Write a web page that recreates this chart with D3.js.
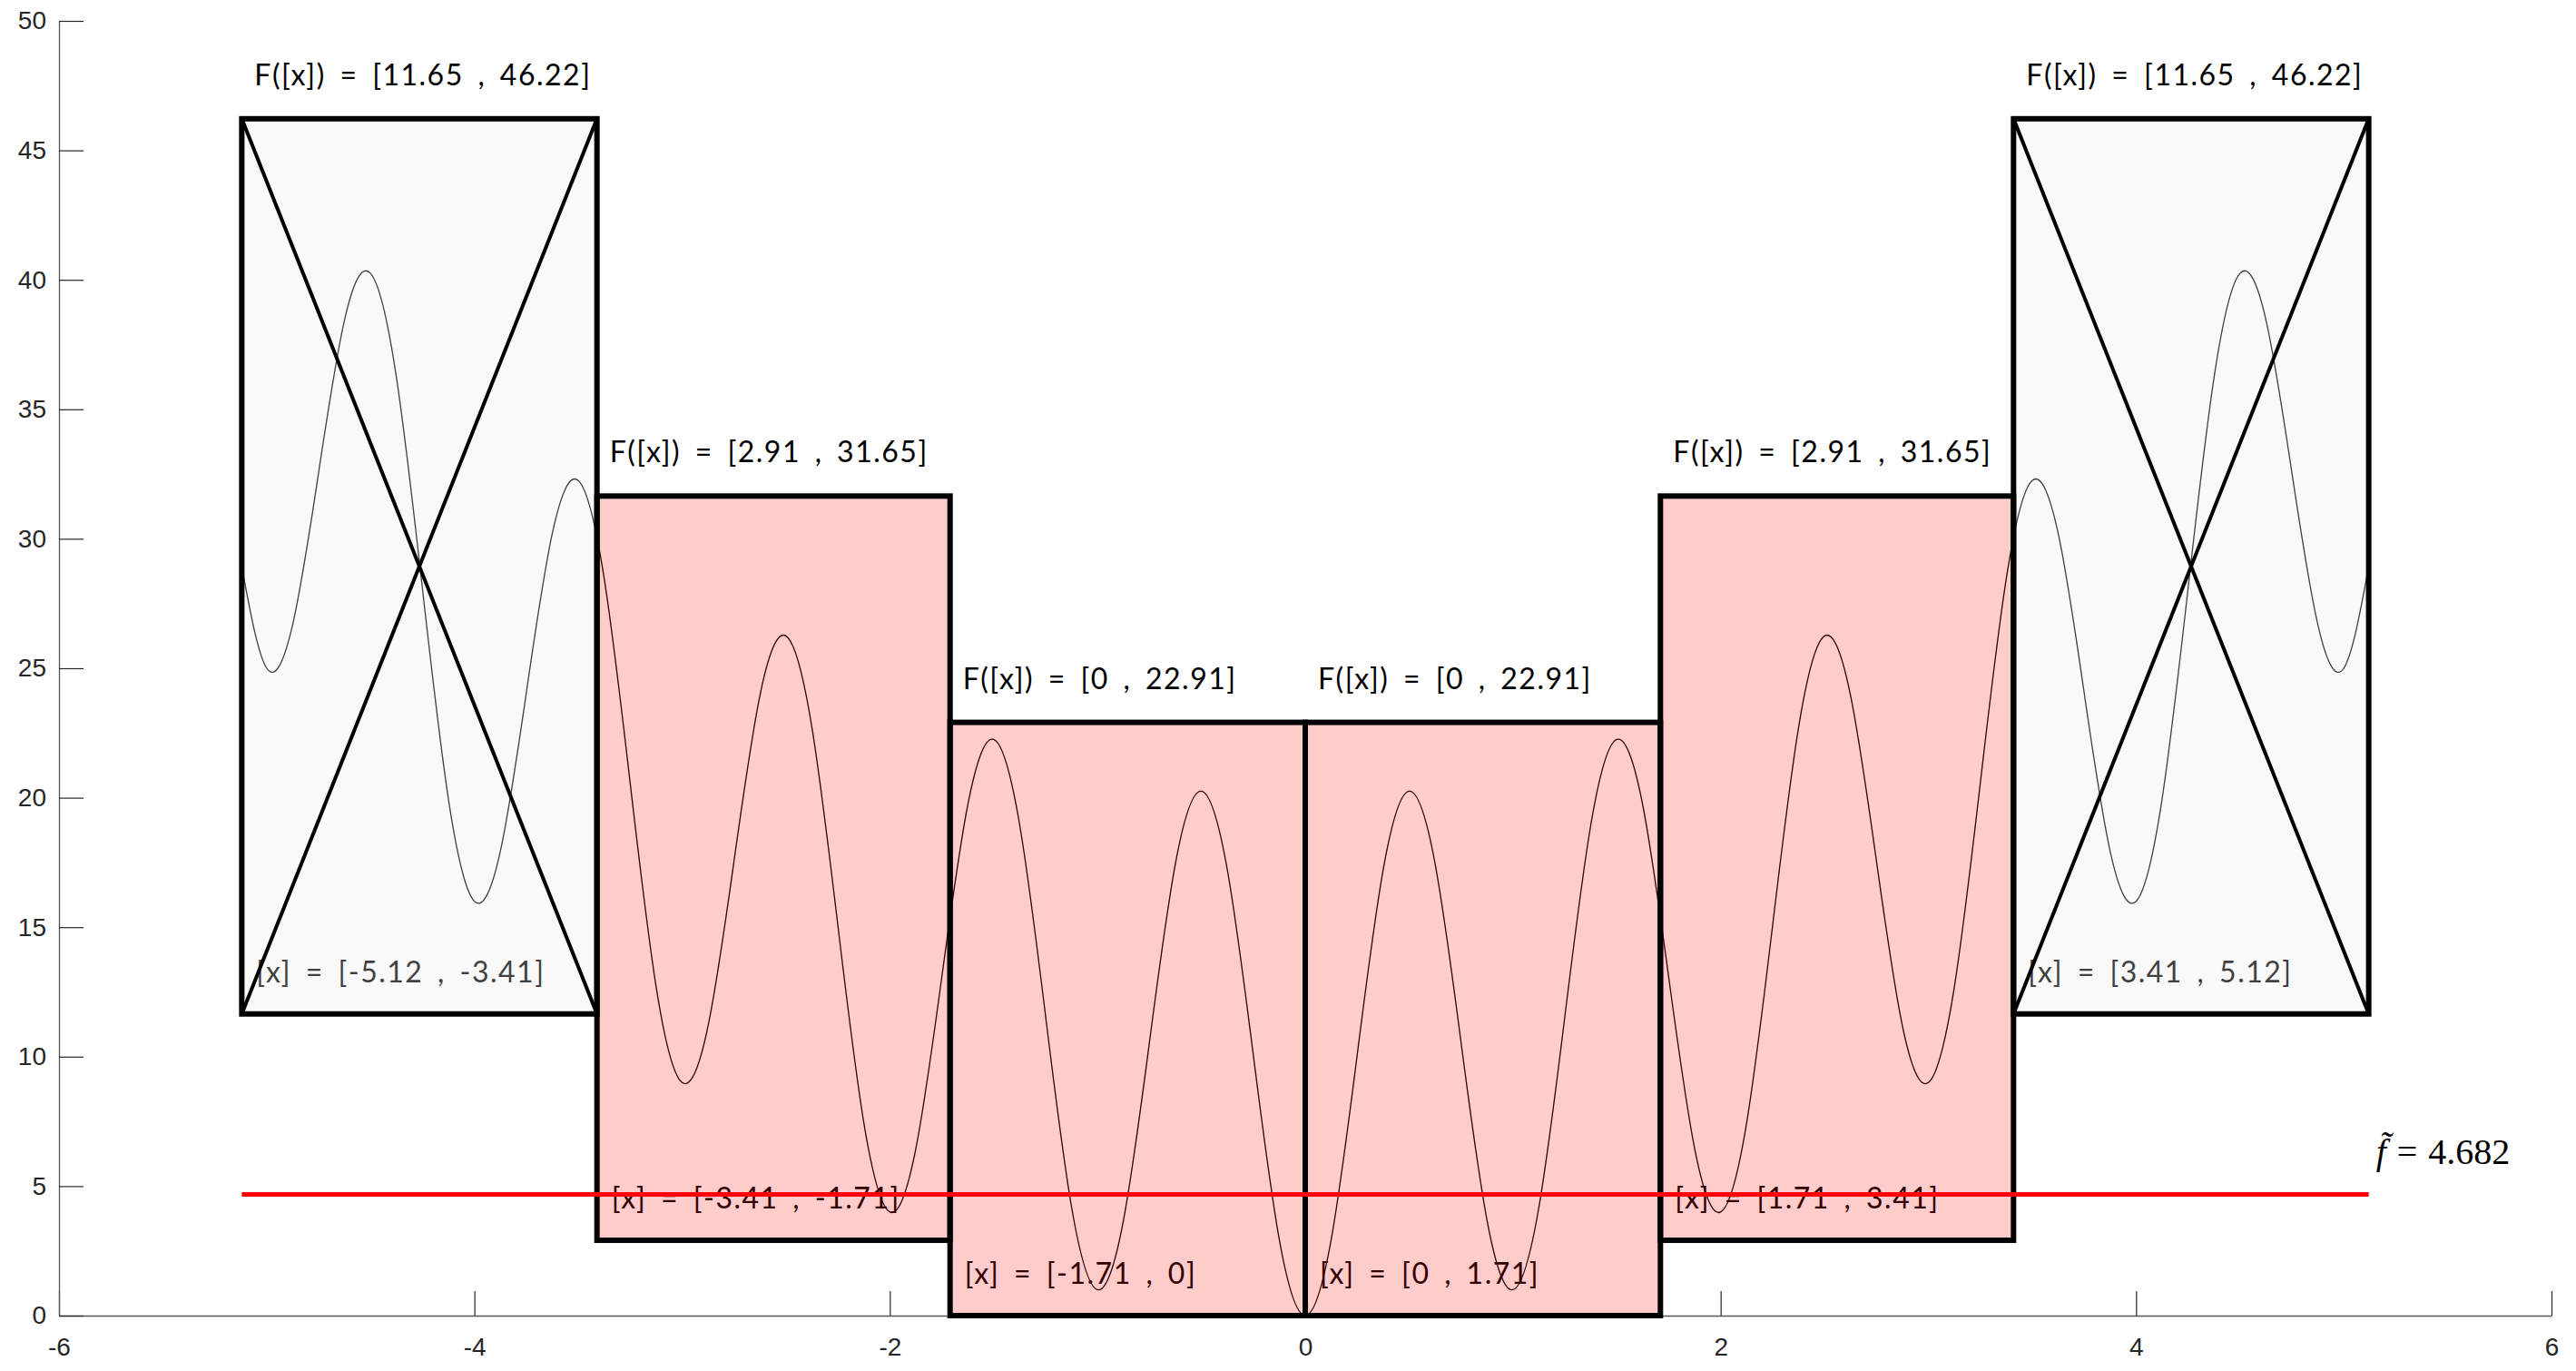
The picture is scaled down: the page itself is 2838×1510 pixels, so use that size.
<!DOCTYPE html>
<html>
<head>
<meta charset="utf-8">
<script src="https://cdn.jsdelivr.net/npm/d3@7/dist/d3.min.js"></script>
<style>
  body { margin: 0; background: #fff; }
  .tick text { font-family: "Liberation Sans", Arial, sans-serif; font-size: 28px; fill: #262626; }
  .tick line { stroke: #262626; stroke-width: 1.2; }
  .domain { stroke: #555; stroke-width: 1.3; }
  .lbl { font-family: Lato, "Open Sans", sans-serif; font-size: 32px; letter-spacing: 1.5px; word-spacing: 6px; }
</style>
</head>
<body>
<svg id="chart"></svg>
<script>
// intervalli [x] e limiti F([x])
var boxLo = [-5.12, -3.41, -1.71, 0, 1.71, 3.41];
var boxHi = [-3.41, -1.71, 0, 1.71, 3.41, 5.12];
var boxFLo = [11.65, 2.91, 0, 0, 2.91, 11.65];
var boxFHi = [46.22, 31.65, 22.91, 22.91, 31.65, 46.22];
var boxDiscarded = [true, false, false, false, false, true];

var fTilde = 4.682;

// campioni della curva
var curveX = [-5.12, -5, -4.875, -4.75, -4.625, -4.5, -4.375, -4.25, -4.125, -4,
  -3.875, -3.75, -3.625, -3.5, -3.375, -3.25, -3.125, -3, -2.875, -2.75,
  -2.625, -2.5, -2.375, -2.25, -2.125, -2, -1.875, -1.75, -1.625, -1.5,
  -1.375, -1.25, -1.125, -1, -0.875, -0.75, -0.625, -0.5, -0.375, -0.25,
  -0.125, 0, 0.125, 0.25, 0.375, 0.5, 0.625, 0.75, 0.875, 1,
  1.125, 1.25, 1.375, 1.5, 1.625, 1.75, 1.875, 2, 2.125, 2.25,
  2.375, 2.5, 2.625, 2.75, 2.875, 3, 3.125, 3.25, 3.375, 3.5,
  3.625, 3.75, 3.875, 4, 4.125, 4.25, 4.375, 4.5, 4.625, 4.75,
  4.875, 5, 5.12];
var curveY = [28.92, 25.00, 26.69, 32.56, 38.46, 40.25, 36.21, 28.06, 19.94, 16.00,
  17.94, 24.06, 30.21, 32.25, 28.46, 20.56, 12.69, 9.00, 11.19, 17.56,
  23.96, 26.25, 22.71, 15.06, 7.44, 4.00, 6.44, 13.06, 19.71, 22.25,
  18.96, 11.56, 4.19, 1.00, 3.69, 10.56, 17.46, 20.25, 17.21, 10.06,
  2.94, 0, 2.94, 10.06, 17.21, 20.25, 17.46, 10.56, 3.69, 1.00,
  4.19, 11.56, 18.96, 22.25, 19.71, 13.06, 6.44, 4.00, 7.44, 15.06,
  22.71, 26.25, 23.96, 17.56, 11.19, 9.00, 12.69, 20.56, 28.46, 32.25,
  30.21, 24.06, 17.94, 16.00, 19.94, 28.06, 36.21, 40.25, 38.46, 32.56,
  26.69, 25.00, 28.92];

var xTicks = [-6, -4, -2, 0, 2, 4, 6];
var yTicks = [0, 5, 10, 15, 20, 25, 30, 35, 40, 45, 50];

var width = 2838, height = 1510;

var svg = d3.select("#chart").attr("width", width).attr("height", height);

var x = d3.scaleLinear().domain([-6, 6]).range([65, 2811]);
var y = d3.scaleLinear().domain([0, 50]).range([1449, 23]);

// assi (tick verso l'interno come in matlab), trattino normale per il meno
var plain = function(d) { return String(d); };
svg.append("g")
  .attr("transform", "translate(0," + y(0) + ")")
  .call(d3.axisBottom(x).tickValues(xTicks).tickFormat(plain)
    .tickSizeInner(-27).tickSizeOuter(0).tickPadding(24));
svg.append("g")
  .attr("transform", "translate(" + x(-6) + ",0)")
  .call(d3.axisLeft(y).tickValues(yTicks).tickFormat(plain)
    .tickSizeInner(-27).tickSizeOuter(0).tickPadding(14));

var boxes = boxLo.map(function(d, i) {
  return { lo: d, hi: boxHi[i], flo: boxFLo[i], fhi: boxFHi[i], out: boxDiscarded[i] };
});

// curva
var pts = curveX.map(function(d, i) { return [d, curveY[i]]; });
var line = d3.line()
  .x(function(d) { return x(d[0]); })
  .y(function(d) { return y(d[1]); })
  .curve(d3.curveNatural);
svg.append("path")
  .datum(pts)
  .attr("d", line)
  .attr("fill", "none")
  .attr("stroke", "#000")
  .attr("stroke-width", 1.3);

// etichette [x] (sotto il riempimento trasparente)
svg.selectAll(".xlbl")
  .data(boxes)
  .enter().append("text")
  .attr("class", "lbl xlbl")
  .attr("x", function(d) { return x(d.lo) + 16; })
  .attr("y", function(d) { return y(d.flo) - 35; })
  .attr("fill", "#000")
  .text(function(d) { return "[x] = [" + d.lo + " , " + d.hi + "]"; });

// riempimento
svg.selectAll(".fill")
  .data(boxes)
  .enter().append("rect")
  .attr("x", function(d) { return x(d.lo); })
  .attr("y", function(d) { return y(d.fhi); })
  .attr("width", function(d) { return x(d.hi) - x(d.lo); })
  .attr("height", function(d) { return y(d.flo) - y(d.fhi); })
  .attr("fill", function(d) { return d.out ? "rgb(233,233,233)" : "rgb(255,0,0)"; })
  .attr("fill-opacity", function(d) { return d.out ? 0.275 : 0.2; });

// croci sui box scartati
var crossed = boxes.filter(function(d) { return d.out; });
svg.selectAll(".c1")
  .data(crossed)
  .enter().append("line")
  .attr("x1", function(d) { return x(d.lo); })
  .attr("y1", function(d) { return y(d.fhi); })
  .attr("x2", function(d) { return x(d.hi); })
  .attr("y2", function(d) { return y(d.flo); })
  .attr("stroke", "#000").attr("stroke-width", 4);
svg.selectAll(".c2")
  .data(crossed)
  .enter().append("line")
  .attr("x1", function(d) { return x(d.lo); })
  .attr("y1", function(d) { return y(d.flo); })
  .attr("x2", function(d) { return x(d.hi); })
  .attr("y2", function(d) { return y(d.fhi); })
  .attr("stroke", "#000").attr("stroke-width", 4);

// bordi
svg.selectAll(".border")
  .data(boxes)
  .enter().append("rect")
  .attr("x", function(d) { return x(d.lo); })
  .attr("y", function(d) { return y(d.fhi); })
  .attr("width", function(d) { return x(d.hi) - x(d.lo); })
  .attr("height", function(d) { return y(d.flo) - y(d.fhi); })
  .attr("fill", "none")
  .attr("stroke", "#000")
  .attr("stroke-width", 6);

// etichette F([x])
svg.selectAll(".flbl")
  .data(boxes)
  .enter().append("text")
  .attr("class", "lbl flbl")
  .attr("x", function(d) { return x(d.lo) + 14; })
  .attr("y", function(d) { return y(d.fhi) - 37; })
  .attr("fill", "#000")
  .text(function(d) { return "F([x]) = [" + d.flo + " , " + d.fhi + "]"; });

// linea f tilde
svg.append("line")
  .attr("x1", x(boxLo[0]))
  .attr("x2", x(boxHi[boxHi.length - 1]))
  .attr("y1", y(fTilde))
  .attr("y2", y(fTilde))
  .attr("stroke", "#ff0000")
  .attr("stroke-width", 5);

var tx = x(boxHi[boxHi.length - 1]) + 8, ty = y(fTilde) - 33;
var ft = svg.append("text")
  .attr("x", tx).attr("y", ty)
  .attr("font-family", "'Liberation Serif', 'DejaVu Serif', serif")
  .attr("font-size", 40)
  .attr("fill", "#000");
ft.append("tspan").attr("font-style", "italic").text("f\u0303");
ft.append("tspan").attr("dx", 12).text("=");
ft.append("tspan").attr("dx", 12).text(fTilde);
</script>
</body>
</html>
